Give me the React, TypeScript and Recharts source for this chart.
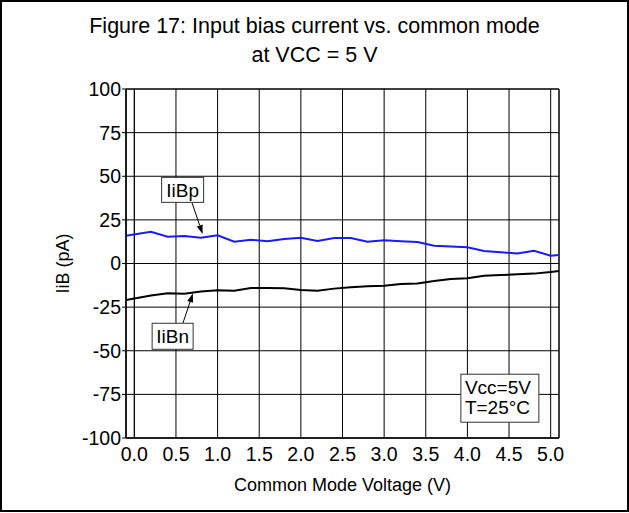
import React from 'react'
import { LineChart, Line, XAxis, YAxis, CartesianGrid, ReferenceArea, ReferenceDot, ReferenceLine, Label } from 'recharts'

// common mode voltage (V), sampled every 0.2 V
const voltage = [-0.1, 0.2, 0.4, 0.6, 0.8, 1.0, 1.2, 1.4, 1.6, 1.8, 2.0, 2.2, 2.4, 2.6, 2.8, 3.0, 3.2, 3.4, 3.6, 3.8, 4.0, 4.2, 4.4, 4.6, 4.8, 5.0, 5.1]
// input bias current (pA)
const iibp = [15.9, 18.2, 15.4, 15.8, 14.8, 16.2, 12.5, 13.6, 12.7, 14.0, 14.8, 12.9, 14.6, 14.6, 12.5, 13.3, 12.7, 12.3, 10.2, 9.8, 9.3, 7.2, 6.4, 5.8, 7.3, 4.5, 4.9]
const iibn = [-20.9, -18.4, -17.1, -17.3, -16.1, -15.4, -15.6, -14.0, -14.0, -14.2, -15.2, -15.6, -14.4, -13.6, -13.1, -12.7, -11.7, -11.4, -10.0, -8.9, -8.5, -7.0, -6.6, -6.2, -5.8, -4.9, -4.3]

const xTicks = [0, 0.5, 1, 1.5, 2, 2.5, 3, 3.5, 4, 4.5, 5]
const yTicks = [-100, -75, -50, -25, 0, 25, 50, 75, 100]

const FONT = '"Liberation Sans", Arial, Helvetica, sans-serif'

const data = voltage.map((v, i) => ({ v, iibp: iibp[i], iibn: iibn[i] }))

const TextBox = ({ cx, cy, w, h, lines }: any) => (
  <g>
    <rect x={cx - w / 2} y={cy - h / 2} width={w} height={h} fill="#fff" stroke="#333" strokeWidth={1} />
    {lines.map((t: string, i: number) => (
      <text key={i} x={lines.length > 1 ? cx - w / 2 + 4 : cx} y={cy - h / 2 + 20 + i * 20}
        textAnchor={lines.length > 1 ? 'start' : 'middle'} fontSize={19} fontFamily={FONT} fill="#000">{t}</text>
    ))}
  </g>
)

const Arrow = ({ x1, y1, x2, y2 }: any) => {
  const a = Math.atan2(y2 - y1, x2 - x1)
  const len = 9, half = 3
  const bx = x2 - len * Math.cos(a), by = y2 - len * Math.sin(a)
  const p1 = `${bx - half * Math.sin(a)},${by + half * Math.cos(a)}`
  const p2 = `${bx + half * Math.sin(a)},${by - half * Math.cos(a)}`
  return (
    <g>
      <line x1={x1} y1={y1} x2={bx} y2={by} stroke="#000" strokeWidth={1} />
      <polygon points={`${x2},${y2} ${p1} ${p2}`} fill="#000" />
    </g>
  )
}

export default function App() {
  return (
    <div style={{ position: 'absolute', left: 0, top: 0, width: 629, height: 513, background: '#fff', fontFamily: FONT }}>
      <div style={{ position: 'absolute', left: 0, top: 0, width: 629, height: 512, boxSizing: 'border-box', border: '2px solid #000' }} />
      <div style={{ position: 'absolute', left: 0, top: 12, width: 629, textAlign: 'center', fontSize: 21.5, lineHeight: '29px', color: '#000' }}>
        Figure 17: Input bias current vs. common mode<br />at VCC = 5 V
      </div>
      <div style={{ position: 'absolute', left: 0, top: 0 }}>
        <LineChart width={629} height={513} data={data} margin={{ top: 89, right: 70, bottom: 22, left: 0 }}>
          <CartesianGrid stroke="#000" strokeWidth={1} fill="none" />
          <XAxis dataKey="v" type="number" domain={[-0.1, 5.1]} ticks={xTicks} allowDataOverflow
            tickFormatter={(t) => t.toFixed(1)} tickLine={false} axisLine={{ stroke: '#000' }}
            tick={{ fill: '#000', fontSize: 19.5, fontFamily: FONT }} height={53} tickMargin={3}>
            <Label value="Common Mode Voltage (V)" position="insideBottom" offset={0} fill="#000" fontSize={18} fontFamily={FONT} />
          </XAxis>
          <YAxis type="number" domain={[-100, 100]} ticks={yTicks} width={126} interval={0}
            tickLine={{ stroke: '#000' }} tickSize={4} tickMargin={1} axisLine={{ stroke: '#000' }}
            tick={{ fill: '#000', fontSize: 19.5, fontFamily: FONT }}>
            <Label value="IiB (pA)" angle={-90} position="center" fill="#000" fontSize={18} fontFamily={FONT} />
          </YAxis>
          <ReferenceArea x1={-0.1} x2={5.1} y1={-100} y2={100} fill="none" stroke="#000" strokeWidth={1} />
          <ReferenceLine x={0} stroke="#000" />
          <Line dataKey="iibp" stroke="#1a1aff" strokeWidth={2} dot={false} isAnimationActive={false} />
          <Line dataKey="iibn" stroke="#000" strokeWidth={2} dot={false} isAnimationActive={false} />
          <ReferenceLine segment={[{ x: 0.69, y: 35.2 }, { x: 0.82, y: 16.9 }]} shape={(p: any) => <Arrow {...p} />} />
          <ReferenceLine segment={[{ x: 0.584, y: -34.1 }, { x: 0.704, y: -17.1 }]} shape={(p: any) => <Arrow {...p} />} />
          <ReferenceDot x={0.58} y={42.2} r={0} shape={(p: any) => <TextBox cx={p.cx} cy={p.cy} w={42} h={25} lines={['IiBp']} />} />
          <ReferenceDot x={0.46} y={-41.7} r={0} shape={(p: any) => <TextBox cx={p.cx} cy={p.cy} w={41} h={26} lines={['IiBn']} />} />
          <ReferenceDot x={4.39} y={-77.2} r={0} shape={(p: any) => <TextBox cx={p.cx} cy={p.cy} w={78} h={48} lines={['Vcc=5V', 'T=25°C']} />} />
        </LineChart>
      </div>
    </div>
  )
}
